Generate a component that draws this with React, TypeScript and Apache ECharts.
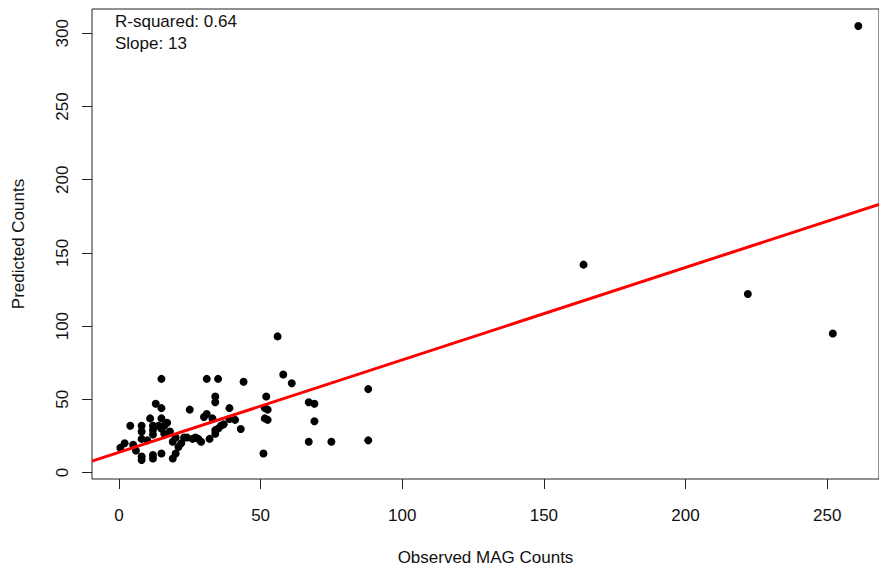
import React, { useEffect, useRef } from "react";
import * as echarts from "echarts";

// Observed MAG counts (x) vs predicted counts (y)
const observed: number[] = [
  261, 164, 222, 252,
  56, 58, 61, 52, 51.5, 52.5, 51.5, 52.5, 67, 69, 69, 67, 75, 88, 88, 51,
  15, 31, 35, 44, 34, 34, 39, 25, 13, 15,
  31, 30, 33, 11, 15, 4, 8, 12, 14, 16, 8, 8, 12, 12, 15, 16, 20, 23, 26, 28, 32, 34, 35, 37, 39, 41, 43,
  19, 21, 20, 19, 2, 5, 6, 0.5, 8, 8, 12, 12, 15, 24, 27, 36, 34, 10, 18, 29, 22, 17,
];
const predicted: number[] = [
  305, 142, 122, 95,
  93, 67, 61, 52, 44, 43, 37, 36, 48, 47, 35, 21, 21, 57, 22, 13,
  64, 64, 64, 62, 52, 48, 44, 43, 47, 44,
  40, 38, 37, 37, 37, 32, 32, 32, 32, 32, 28, 23, 29, 26, 30, 26.5, 24, 24, 23, 23, 23, 26.5, 30, 33, 36.6, 36, 29.7,
  21, 17.5, 13, 9.6, 20, 19, 15, 17, 11, 8.6, 12, 9.6, 13, 24, 24, 32, 29, 22, 28, 21, 20, 34,
];

// Fitted regression line, endpoints read at the plot edges
const fitX: number[] = [-9.51, 268.3];
const fitY: number[] = [7.8, 183.2];

const xTicks: number[] = [0, 50, 100, 150, 200, 250];
const yTicks: number[] = [0, 50, 100, 150, 200, 250, 300];

const annotations: string[] = ["R-squared: 0.64", "Slope: 13"];

const FONT = "'Liberation Sans', Arial, sans-serif";
const INK = "#111";

export default function App() {
  const ref = useRef<HTMLDivElement>(null);

  useEffect(() => {
    if (!ref.current) return;
    const chart = echarts.init(ref.current, undefined, { renderer: "svg" });
    const points = observed.map((x, i) => [x, predicted[i]]);
    const fit = fitX.map((x, i) => [x, fitY[i]]);

    chart.setOption({
      animation: false,
      backgroundColor: "#ffffff",
      grid: {
        left: 92,
        top: 9,
        right: -2,
        bottom: 87,
        show: true,
        borderColor: "#222",
        borderWidth: 1,
        backgroundColor: "transparent",
      },
      xAxis: {
        type: "value",
        min: -9.51,
        max: 268.3,
        name: "Observed MAG Counts",
        nameLocation: "middle",
        nameGap: 70,
        nameTextStyle: { fontFamily: FONT, fontSize: 17, color: INK },
        axisLine: { show: false, onZero: false },
        splitLine: { show: false },
        axisTick: {
          show: true,
          length: 10,
          customValues: xTicks,
          lineStyle: { color: "#222", width: 1 },
        },
        axisLabel: {
          customValues: xTicks,
          margin: 28,
          fontFamily: FONT,
          fontSize: 17,
          color: INK,
        },
      },
      yAxis: {
        type: "value",
        min: -4.4,
        max: 316.6,
        name: "Predicted Counts",
        nameLocation: "middle",
        nameRotate: 90,
        nameGap: 65,
        nameTextStyle: { fontFamily: FONT, fontSize: 17, color: INK },
        axisLine: { show: false, onZero: false },
        splitLine: { show: false },
        axisTick: {
          show: true,
          length: 10,
          customValues: yTicks,
          lineStyle: { color: "#222", width: 1 },
        },
        axisLabel: {
          customValues: yTicks,
          rotate: 90,
          margin: 21,
          fontFamily: FONT,
          fontSize: 17,
          color: INK,
        },
      },
      graphic: annotations.map((t, i) => ({
        type: "text",
        left: 115,
        top: 13 + i * 22,
        style: { text: t, fontFamily: FONT, fontSize: 17, fill: INK },
      })),
      series: [
        {
          type: "scatter",
          data: points,
          symbol: "circle",
          symbolSize: 8,
          itemStyle: { color: "#000", opacity: 1 },
          z: 2,
        },
        {
          type: "line",
          data: fit,
          showSymbol: false,
          symbol: "none",
          lineStyle: { color: "#ff0000", width: 3 },
          z: 3,
        },
      ],
    });
    return () => chart.dispose();
  }, []);

  return (
    <div
      ref={ref}
      style={{ position: "absolute", left: 0, top: 0, width: 879, height: 571 }}
    />
  );
}
